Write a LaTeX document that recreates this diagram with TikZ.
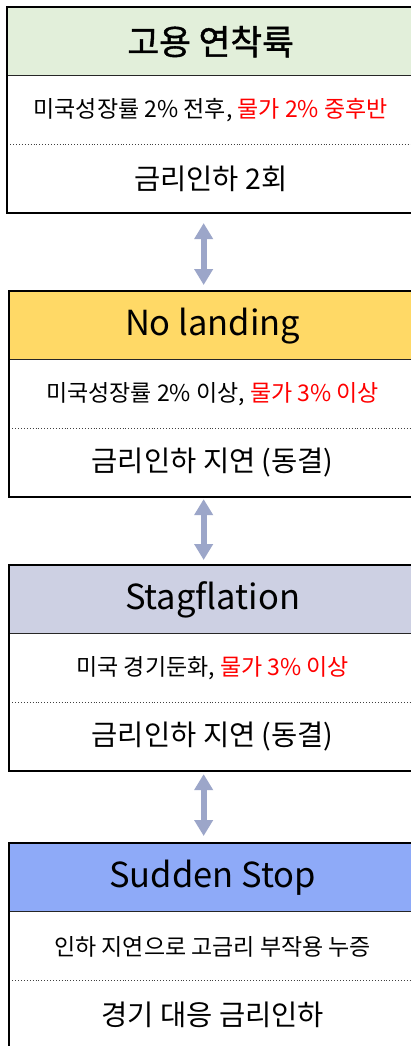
\documentclass[tikz,border=0pt]{standalone}
\usepackage{fontspec}
\setmainfont{Noto Sans CJK KR}
\newfontfamily\semititle[FakeBold=1.2]{Noto Sans CJK KR}
\usetikzlibrary{arrows.meta}
\definecolor{hgreen}{HTML}{E2EFDA}
\definecolor{hgold}{HTML}{FFD966}
\definecolor{hlav}{HTML}{CDD0E3}
\definecolor{hblue}{HTML}{8EAAF8}
\definecolor{arrowc}{HTML}{9CA6C9}
\definecolor{redtxt}{HTML}{FF0000}
\tikzset{
  hdr/.style={draw=black!85, line width=1.3pt, minimum width=406pt, minimum height=68pt,
    inner sep=0pt, font=\fontsize{34.5}{40}\selectfont},
  midsec/.style={minimum width=406pt, minimum height=68pt, inner sep=0pt,
    font=\fontsize{23}{27}\selectfont},
  botsec/.style={minimum width=406pt, minimum height=68pt, inner sep=0pt,
    font=\fontsize{28.5}{33}\selectfont},
  frame/.style={draw=black, line width=2.4pt},
  sep/.style={draw=black!75, line width=0.9pt, dotted},
  dblarrow/.style={draw=arrowc, line width=6pt,
    {Triangle[width=18pt,length=16pt]}-{Triangle[width=18pt,length=16pt]}}
}
\newcommand{\scenariobox}[7]{%
  \node[hdr, fill=#4, anchor=north west] (h#1) at (#2,#3) {#5};
  \node[midsec, anchor=north] (m#1) at (h#1.south) {#6};
  \node[botsec, anchor=north] (b#1) at (m#1.south) {#7};
  \draw[sep] (m#1.south west) -- (m#1.south east);
  \draw[frame] (h#1.north west) rectangle (b#1.south east);
}
\begin{document}
\begin{tikzpicture}[x=1pt,y=-1pt]
\fill[white] (0,0) rectangle (410,1046);
\useasboundingbox (0,0) rectangle (410,1046);
\scenariobox{1}{7}{7}{hgreen}{\semititle 고용 연착륙}{미국성장률 2\% 전후, \textcolor{redtxt}{물가 2\% 중후반}}{금리인하 2회}
\scenariobox{2}{9}{291}{hgold}{No landing}{미국성장률 2\% 이상, \textcolor{redtxt}{물가 3\% 이상}}{금리인하 지연 (동결)}
\scenariobox{3}{9}{565}{hlav}{Stagflation}{미국 경기둔화, \textcolor{redtxt}{물가 3\% 이상}}{금리인하 지연 (동결)}
\scenariobox{4}{9}{843}{hblue}{Sudden Stop}{인하 지연으로 고금리 부작용 누증}{경기 대응 금리인하}
\draw[dblarrow, shorten <=10pt, shorten >=6pt] ([xshift=-7pt]b1.south) -- ([xshift=-9pt]h2.north);
\draw[dblarrow, shorten <=2pt, shorten >=5pt] ([xshift=-9pt]b2.south) -- ([xshift=-9pt]h3.north);
\draw[dblarrow, shorten <=3pt, shorten >=7pt] ([xshift=-9pt]b3.south) -- ([xshift=-9pt]h4.north);
\end{tikzpicture}
\end{document}
